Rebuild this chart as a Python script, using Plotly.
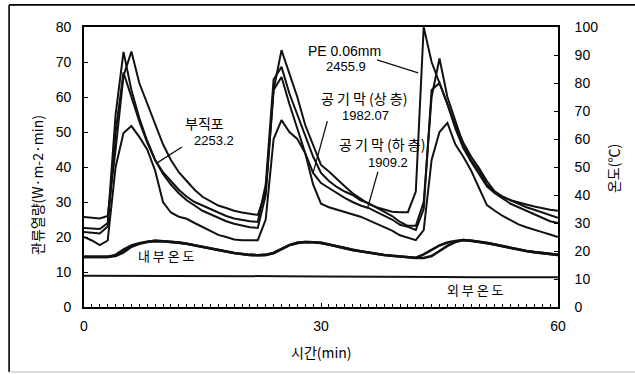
import plotly.graph_objects as go

# ---- data -------------------------------------------------------------
time_min = list(range(61))

pe_006 = [25.7, 25.5, 25.3, 26, 45, 66, 73, 64, 58, 52, 46.5, 42, 38.5, 36, 33.5, 31.5, 30.2, 29, 28.3, 27.5, 27, 26.6, 26.3,
          33, 62, 73.4, 67, 60, 52, 46, 40.6, 38.7, 36.5, 34.5, 32.5, 31, 29.5, 28.5, 27.8, 27.2, 27.1, 27.1,
          33, 80, 70, 64, 57.5, 52, 47, 43, 39.7, 36, 33, 31.5, 30.5, 30, 29.3, 28.7, 28.2, 27.8, 27.5]

bujikpo = [22.6, 22.5, 22.3, 24, 55, 72.9, 62, 54, 47.5, 42, 38.5, 36, 33.5, 31.5, 30, 29, 28, 27, 26, 25.3, 24.8, 24.5, 24.3,
           35, 65, 68.6, 61, 55, 49, 43, 38.3, 36, 34.3, 33, 32, 30.5, 29.7, 28.5, 27.3, 26, 24.3, 23.2,
           23.2, 30, 60, 71, 60, 53, 46.5, 42, 39, 35, 33, 31.5, 30.5, 29.5, 28.5, 27.8, 27, 26.2, 25.5]

air_upper = [21.4, 21.3, 21, 23, 50, 67, 60, 53, 47, 42, 38, 35, 32.5, 30.5, 29, 27.5, 26.5, 25.5, 24.5, 23.8, 23.2, 22.8, 22.6,
             32, 62, 65.7, 58, 51, 44, 38.3, 35.4, 34, 32.5, 31.2, 30, 29, 28.3, 27.2, 26.3, 25, 23.5, 22.9,
             22, 28, 62, 64, 58, 51, 45.5, 41.5, 38, 34.5, 32.5, 31, 29.5, 28.5, 27.5, 26.5, 25.5, 24.5, 24]

air_lower = [20, 19, 17.7, 19, 40, 49.7, 51.7, 48.6, 45, 39, 30, 27, 25.8, 25.2, 24, 22.9, 21.8, 20.6, 20, 19.3, 19.1, 19.1, 19.1,
             25, 48, 53.4, 50, 48, 44, 35, 29.5, 28.5, 27.8, 27, 26.5, 25.8, 24.8, 23.8, 22.9, 21.8, 20.5, 19.8,
             19.1, 22, 42, 50, 52.6, 46.5, 43, 39, 34, 29.1, 27.5, 26, 24.8, 23.6, 22.8, 22, 21.4, 20.7, 20]

inside_temp_a = [17.9, 17.9, 17.9, 17.9, 18.2, 19.5, 21.5, 22.6, 23.2, 23.6, 23.5, 23.3, 23, 22.6, 22, 21.4, 20.8, 20.3, 19.8, 19.3, 18.9, 18.6, 18.5,
                 18.6, 19.3, 20.8, 22.1, 22.9, 23.2, 23.1, 22.9, 22.3, 21.6, 21, 20.4, 19.9, 19.4, 19, 18.6, 18.3, 18, 17.7,
                 17.5, 17.5, 18.2, 20, 21.8, 23.2, 23.9, 23.7, 23.3, 22.9, 22.3, 21.7, 21.1, 20.4, 20, 19.6, 19.2, 18.9, 18.6]

inside_temp_b = [17.9, 17.9, 17.9, 17.9, 18.6, 20.5, 22, 22.8, 23.3, 23.6, 23.5, 23.3, 23, 22.6, 22, 21.4, 20.8, 20.3, 19.8, 19.3, 18.9, 18.6, 18.5,
                 18.6, 19.3, 20.8, 22.1, 22.9, 23.2, 23.1, 22.9, 22.3, 21.6, 21, 20.4, 19.9, 19.4, 19, 18.6, 18.3, 18, 17.7,
                 17.6, 18.8, 20.5, 22, 23, 23.6, 23.9, 23.7, 23.3, 22.9, 22.3, 21.7, 21.1, 20.4, 20, 19.6, 19.2, 18.9, 18.6]

outside_time = [0, 5, 10, 15, 20, 25, 30, 35, 40, 45, 50, 55, 60]
outside_temp = [11.2, 11.2, 11.2, 11.1, 11.1, 11.0, 10.9, 10.9, 10.9, 10.7, 10.6, 10.6, 10.6]

x_ticks = [0, 30, 60]

# ---- figure -----------------------------------------------------------
LINE = "#111111"
NUM_FONT = "Liberation Sans, Arial, Noto Sans CJK KR"
KR_FONT = "Noto Sans CJK KR, Liberation Sans"

fig = go.Figure()
for series in (air_lower, air_upper, bujikpo, pe_006):
    fig.add_trace(go.Scatter(x=time_min, y=series, mode="lines",
                             line=dict(color=LINE, width=2), showlegend=False, yaxis="y"))
for series in (inside_temp_a, inside_temp_b):
    fig.add_trace(go.Scatter(x=time_min, y=series, mode="lines",
                             line=dict(color=LINE, width=2.6), showlegend=False, yaxis="y2"))
fig.add_trace(go.Scatter(x=outside_time, y=outside_temp, mode="lines",
                         line=dict(color=LINE, width=2), showlegend=False, yaxis="y2"))

axis_common = dict(showgrid=False, zeroline=False, showline=True, linecolor="black", linewidth=1.6,
                   ticks="inside", ticklen=4, tickcolor="black",
                   tickfont=dict(family=NUM_FONT, size=14, color="black"))

fig.update_layout(
    width=635, height=374, autosize=False,
    margin=dict(l=84, r=77, t=27, b=67),
    paper_bgcolor="white", plot_bgcolor="white",
    xaxis=dict(range=[0, 60], tickmode="array", tickvals=x_ticks, mirror=True,
               minor=dict(ticks="inside", dtick=1, tick0=0, ticklen=3, tickcolor="black"),
               ticklabelstandoff=5, **axis_common),
    yaxis=dict(range=[0, 80], dtick=10, ticklabelstandoff=8, **axis_common),
    yaxis2=dict(range=[0, 100], dtick=10, overlaying="y", side="right", ticklabelstandoff=12, **axis_common),
)

def txt(x, y, s, font=KR_FONT, size=13, ref="data", angle=0):
    fig.add_annotation(x=x, y=y, text=s, showarrow=False, textangle=angle,
                       xanchor="center", yanchor="middle",
                       xref="x" if ref == "data" else "paper",
                       yref="y" if ref == "data" else "paper",
                       font=dict(family=font, size=size, color="black"))

# series labels
txt(15.2, 52.6, "부직포", size=14)
txt(16.5, 47.7, "2253.2", font=NUM_FONT, size=13)
txt(33.0, 73.1, "PE 0.06mm", font=NUM_FONT, size=14)
txt(33.2, 68.6, "2455.9", font=NUM_FONT, size=13)
txt(35.4, 59.7, "공 기 막 (상 층)", size=14)
txt(35.6, 54.6, "1982.07", font=NUM_FONT, size=13)
txt(37.7, 46.6, "공 기 막 (하 층)", size=14)
txt(38.5, 41.4, "1909.2", font=NUM_FONT, size=13)
txt(10.4, 14.6, "내 부 온 도", size=13)
txt(49.5, 5.1, "외 부 온 도", size=13)

# leader lines
leaders = [((12.4, 45.7), (9.2, 41.1)),
           ((37.1, 70.6), (42.3, 66.9)),
           ((30.8, 53.1), (29.0, 38.3)),
           ((37.2, 38.6), (35.9, 28.3))]
for (x0, y0), (x1, y1) in leaders:
    fig.add_shape(type="line", xref="x", yref="y", x0=x0, y0=y0, x1=x1, y1=y1,
                  line=dict(color=LINE, width=1.3))

# axis titles
txt(-0.099, 0.436, "관류열량(W·m-2·min)", size=14, ref="paper", angle=-90)
txt(1.116, 0.496, "온도(℃)", size=14, ref="paper", angle=-90)
txt(0.5, -0.161, "시간(min)", size=14, ref="paper")

# outer frame
fig.add_shape(type="line", xref="paper", yref="paper", x0=-0.158, x1=1.2, y0=1.079, y1=1.079,
              line=dict(color="black", width=1.6))
fig.add_shape(type="line", xref="paper", yref="paper", x0=-0.158, x1=-0.158, y0=1.079, y1=-0.232,
              line=dict(color="black", width=1.6))
fig.add_shape(type="line", xref="paper", yref="paper", x0=-0.158, x1=1.2, y0=-0.232, y1=-0.232,
              line=dict(color="#bbbbbb", width=1))

fig.write_html("out.html", config={"displayModeBar": False},
               post_script="document.body.style.margin='0';document.body.style.overflow='hidden';")
